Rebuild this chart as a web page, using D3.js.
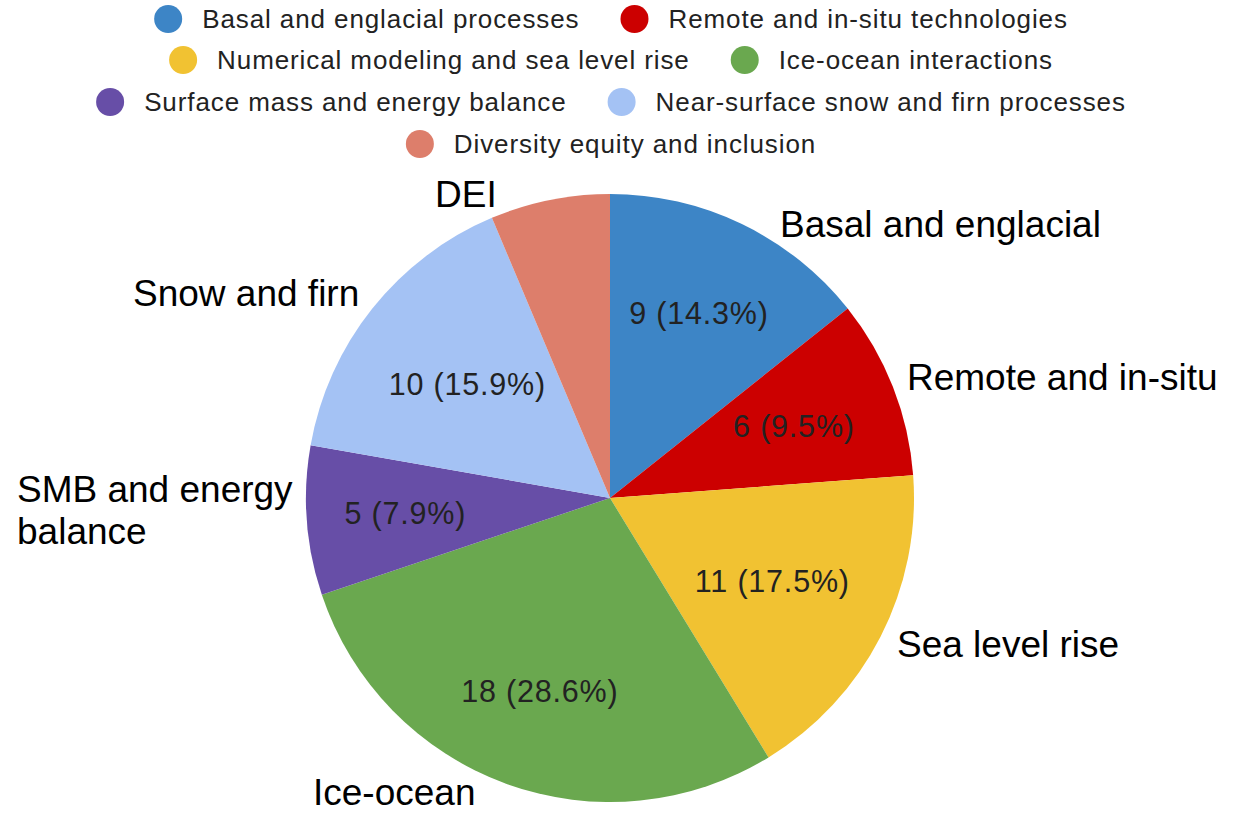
<!DOCTYPE html>
<html>
<head>
<meta charset="utf-8">
<script src="https://cdn.jsdelivr.net/npm/d3@7"></script>
<style>
  html, body { margin: 0; padding: 0; background: #fff; }
  svg { display: block; }
</style>
</head>
<body>
<svg id="chart" width="1234" height="813"></svg>
<script>
// ---- data ----
const categories = [
  "Basal and englacial processes",
  "Remote and in-situ technologies",
  "Numerical modeling and sea level rise",
  "Ice-ocean interactions",
  "Surface mass and energy balance",
  "Near-surface snow and firn processes",
  "Diversity equity and inclusion"
];
const sliceLabels = [
  ["Basal and englacial"],
  ["Remote and in-situ"],
  ["Sea level rise"],
  ["Ice-ocean"],
  ["SMB and energy", "balance"],
  ["Snow and firn"],
  ["DEI"]
];
const values = [9, 6, 11, 18, 5, 10, 4];
const colors = ["#3d85c6", "#cc0000", "#f1c232", "#6aa84f", "#674ea7", "#a4c2f4", "#dd7e6b"];

// ---- layout (not data) ----
const W = 1234, H = 813;
const cx = 610, cy = 498, R = 304;
// radius fraction at which each slice's value label sits
const valueLabelRadius = [0.675, 0.65, 0.60, 0.675, 0.675, 0.60, 0.675];
// outer label anchor positions (left x, first baseline y)
const outerLabelPos = [[780, 237], [907, 390], [897, 657], [313, 805], [17, 502], [133, 306], [435, 207]];
const minPctForLabel = 7;

const svg = d3.select("#chart");
const total = d3.sum(values);

// ---- legend ----
const fontFam = "'Liberation Sans', Arial, sans-serif";
const legendRows = [[0, 1], [2, 3], [4, 5], [6]];
const rowY = [19, 60, 102, 144];
const dotR = 14, dotGap = 20, itemGap = 41, legendCenter = 611;
const legend = svg.append("g");
legendRows.forEach((row, ri) => {
  const g = legend.append("g");
  let x = 0;
  row.forEach((ci, k) => {
    if (k > 0) x += itemGap;
    g.append("circle").attr("cx", x + dotR).attr("cy", rowY[ri]).attr("r", dotR).attr("fill", colors[ci]);
    x += 2 * dotR + dotGap;
    const t = g.append("text")
      .attr("x", x).attr("y", rowY[ri] + 9)
      .attr("font-family", fontFam).attr("font-size", 26)
      .attr("letter-spacing", 0.9)
      .attr("fill", "#222")
      .text(categories[ci]);
    x += t.node().getComputedTextLength();
  });
  g.attr("transform", `translate(${legendCenter - x / 2},0)`);
});

// ---- pie ----
const pie = d3.pie().sort(null).value(d => d)(values);
const arc = d3.arc().innerRadius(0).outerRadius(R);
const gp = svg.append("g").attr("transform", `translate(${cx},${cy})`);
gp.selectAll("path").data(pie).join("path")
  .attr("d", arc)
  .attr("fill", (d, i) => colors[i]);

// value labels
gp.selectAll("text.val").data(pie.filter(d => d.value / total * 100 >= minPctForLabel)).join("text")
  .attr("class", "val")
  .each(function (d) {
    const i = d.index;
    const a = (d.startAngle + d.endAngle) / 2;
    const r = R * valueLabelRadius[i];
    d3.select(this)
      .attr("x", Math.sin(a) * r)
      .attr("y", -Math.cos(a) * r)
      .attr("dy", "0.36em")
      .attr("text-anchor", "middle")
      .attr("font-family", fontFam)
      .attr("font-size", 30.5)
      .attr("letter-spacing", 0.8)
      .attr("fill", "#222")
      .text(`${d.value} (${(d.value / total * 100).toFixed(1)}%)`);
  });

// outer labels
const outer = svg.append("g");
sliceLabels.forEach((lines, i) => {
  const t = outer.append("text")
    .attr("font-family", fontFam)
    .attr("font-size", 37)
    .attr("fill", "#000");
  lines.forEach((ln, k) => {
    t.append("tspan")
      .attr("x", outerLabelPos[i][0])
      .attr("y", outerLabelPos[i][1] + k * 42)
      .text(ln);
  });
});
</script>
</body>
</html>
